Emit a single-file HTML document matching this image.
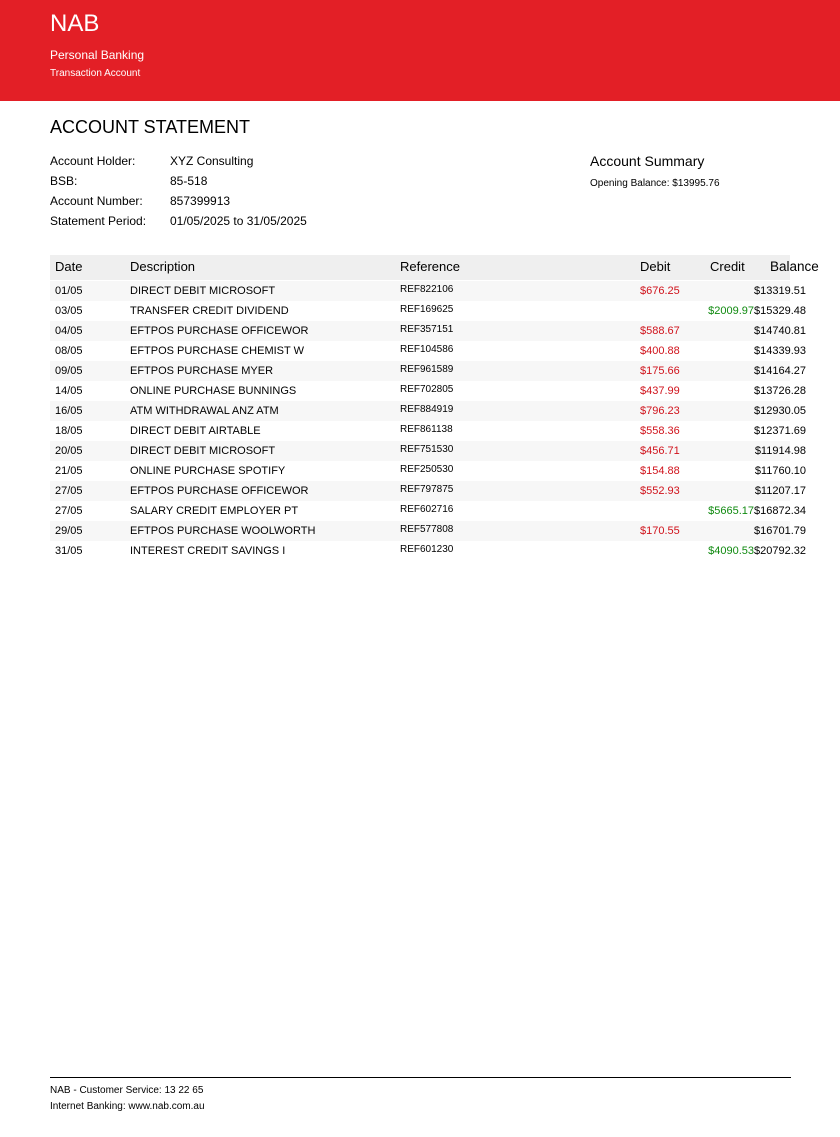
<!DOCTYPE html>
<html><head><meta charset="utf-8"><style>
*{margin:0;padding:0;box-sizing:border-box}
body{width:840px;height:1137px;position:relative;background:#fff;font-family:"Liberation Sans",sans-serif;color:#000;overflow:hidden}
.a{position:absolute;white-space:nowrap}
</style></head><body>
<div class="a" style="left:0;top:0;width:840px;height:101px;background:#e31f26"></div>
<div class="a" style="left:50px;top:10px;font-size:24px;color:#fff">NAB</div>
<div class="a" style="left:50px;top:48px;font-size:12px;color:#fff">Personal Banking</div>
<div class="a" style="left:50px;top:68px;font-size:10px;color:#fff">Transaction Account</div>
<div class="a" style="left:50px;top:117px;font-size:18px">ACCOUNT STATEMENT</div>
<div class="a" style="left:50px;top:154px;font-size:12px">Account Holder:</div>
<div class="a" style="left:170px;top:154px;font-size:12px">XYZ Consulting</div>
<div class="a" style="left:50px;top:174px;font-size:12px">BSB:</div>
<div class="a" style="left:170px;top:174px;font-size:12px">85-518</div>
<div class="a" style="left:50px;top:194px;font-size:12px">Account Number:</div>
<div class="a" style="left:170px;top:194px;font-size:12px">857399913</div>
<div class="a" style="left:50px;top:214px;font-size:12px">Statement Period:</div>
<div class="a" style="left:170px;top:214px;font-size:12px">01/05/2025 to 31/05/2025</div>
<div class="a" style="left:590px;top:153px;font-size:14px">Account Summary</div>
<div class="a" style="left:590px;top:178px;font-size:10px">Opening Balance: $13995.76</div>
<div class="a" style="left:50px;top:255px;width:740px;height:25px;background:#efefef"></div>
<div class="a" style="left:55px;top:259px;font-size:13px">Date</div>
<div class="a" style="left:130px;top:259px;font-size:13px">Description</div>
<div class="a" style="left:400px;top:259px;font-size:13px">Reference</div>
<div class="a" style="left:640px;top:259px;font-size:13px">Debit</div>
<div class="a" style="left:710px;top:259px;font-size:13px">Credit</div>
<div class="a" style="left:770px;top:259px;font-size:13.5px">Balance</div>
<div id="rows"></div>
<div class="a" style="left:50px;top:1077px;width:741px;height:1px;background:#000"></div>
<div class="a" style="left:50px;top:1085px;font-size:10px">NAB - Customer Service: 13 22 65</div>
<div class="a" style="left:50px;top:1101px;font-size:10px">Internet Banking: www.nab.com.au</div>
<script>
const dates=["01/05","03/05","04/05","08/05","09/05","14/05","16/05","18/05","20/05","21/05","27/05","27/05","29/05","31/05"];
const descs=["DIRECT DEBIT MICROSOFT","TRANSFER CREDIT DIVIDEND","EFTPOS PURCHASE OFFICEWOR","EFTPOS PURCHASE CHEMIST W","EFTPOS PURCHASE MYER","ONLINE PURCHASE BUNNINGS","ATM WITHDRAWAL ANZ ATM","DIRECT DEBIT AIRTABLE","DIRECT DEBIT MICROSOFT","ONLINE PURCHASE SPOTIFY","EFTPOS PURCHASE OFFICEWOR","SALARY CREDIT EMPLOYER PT","EFTPOS PURCHASE WOOLWORTH","INTEREST CREDIT SAVINGS I"];
const refs=["REF822106","REF169625","REF357151","REF104586","REF961589","REF702805","REF884919","REF861138","REF751530","REF250530","REF797875","REF602716","REF577808","REF601230"];
const debits=[676.25,null,588.67,400.88,175.66,437.99,796.23,558.36,456.71,154.88,552.93,null,170.55,null];
const credits=[null,2009.97,null,null,null,null,null,null,null,null,null,5665.17,null,4090.53];
const balances=[13319.51,15329.48,14740.81,14339.93,14164.27,13726.28,12930.05,12371.69,11914.98,11760.10,11207.17,16872.34,16701.79,20792.32];
const host=document.getElementById('rows');
function mk(name,style,text){const d=document.createElement('div');d.className='a';


d.style.cssText=style;if(text!=null)d.textContent=text;host.appendChild(d);return d;}
dates.forEach((dt,i)=>{
 const y=281+i*20;
 mk('table-row','left:50px;top:'+y+'px;width:740px;height:20px;background:'+(i%2===0?'#f7f7f7':'#fff'));
 const t=y+4;
 mk('row-date','left:55px;top:'+t+'px;font-size:11px',dt);
 mk('row-description','left:130px;top:'+t+'px;font-size:11px',descs[i]);
 mk('row-reference','left:400px;top:'+(t-1)+'px;font-size:10px',refs[i]);
 if(debits[i]!=null)mk('row-debit','left:640px;top:'+t+'px;font-size:11px;color:#d0121b','$'+debits[i].toFixed(2));
 if(credits[i]!=null)mk('row-credit','right:86px;top:'+t+'px;font-size:11px;color:#108a10','$'+credits[i].toFixed(2));
 mk('row-balance','right:34px;top:'+t+'px;font-size:11px','$'+balances[i].toFixed(2));
});
</script>
</body></html>
